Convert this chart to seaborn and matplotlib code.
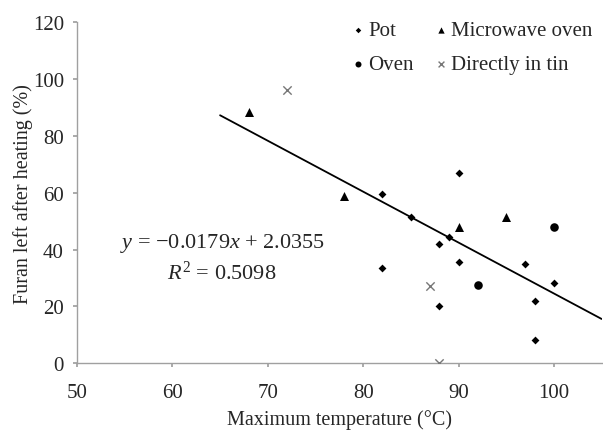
import matplotlib
matplotlib.use("Agg")
import matplotlib.pyplot as plt
import pandas as pd
import seaborn as sns

# Dados
pot_temp = [82, 82, 85, 88, 88, 89, 90, 90, 97, 98, 98, 100]
pot_furan = [59.5, 33.5, 51.3, 42.0, 20.2, 44.5, 66.8, 35.5, 35.0, 21.8, 8.1, 28.1]
micro_temp = [68, 78, 90, 95]
micro_furan = [88.4, 58.8, 48.0, 51.6]
oven_temp = [92, 100]
oven_furan = [27.6, 48.0]
tin_temp = [72, 87, 88]
tin_furan = [96.2, 27.2, 0.0]

# Linha de tendência (fração -> %)
slope = -0.0179
intercept = 2.0355
fit_x = [65, 105]

sns.set_theme(style="white")
plt.rcParams["font.family"] = ["Liberation Serif", "DejaVu Serif"]
plt.rcParams["mathtext.fontset"] = "custom"
plt.rcParams["mathtext.rm"] = "Liberation Serif"
plt.rcParams["mathtext.it"] = "Liberation Serif:italic"

df = pd.concat([
    pd.DataFrame({"temp": pot_temp, "furan": pot_furan, "method": "Pot"}),
    pd.DataFrame({"temp": oven_temp, "furan": oven_furan, "method": "Oven"}),
    pd.DataFrame({"temp": micro_temp, "furan": micro_furan, "method": "Microwave oven"}),
    pd.DataFrame({"temp": tin_temp, "furan": tin_furan, "method": "Directly in tin"}),
], ignore_index=True)

markers = {"Pot": "D", "Oven": "o", "Microwave oven": "^", "Directly in tin": "x"}
palette = {"Pot": "black", "Oven": "black", "Microwave oven": "black", "Directly in tin": "#777777"}
sizes = {"Pot": 16, "Oven": 38, "Microwave oven": 42, "Directly in tin": 36}

fig = plt.figure(figsize=(6.03, 4.31), dpi=100)
ax = fig.add_axes([0.1277, 0.1547, 0.870, 0.792])

for m in ["Pot", "Oven", "Microwave oven", "Directly in tin"]:
    sub = df[df["method"] == m]
    sns.scatterplot(x="temp", y="furan", data=sub, marker=markers[m],
                    color=palette[m], s=sizes[m], linewidth=0 if m != "Directly in tin" else 1.0,
                    label=m, ax=ax, zorder=3)

fit_df = pd.DataFrame({"x": fit_x, "y": [100 * (slope * v + intercept) for v in fit_x]})
sns.lineplot(x="x", y="y", data=fit_df, color="black", linewidth=1.3, ax=ax, legend=False)

ax.set_xlim(50, 105)
ax.set_ylim(0, 120)
ax.set_xticks([50, 60, 70, 80, 90, 100])
ax.set_yticks([0, 20, 40, 60, 80, 100, 120])
ax.set_xlabel("Maximum temperature (°C)", fontsize=14.5, labelpad=5)
ax.set_ylabel("Furan left after heating (%)", fontsize=14.5, labelpad=0)
ax.tick_params(labelsize=15, length=3, color="#a0a0a0", direction="out",
               bottom=True, left=True)
ax.tick_params(axis="x", pad=11)
ax.tick_params(axis="y", pad=6.5)
for side in ["top", "right"]:
    ax.spines[side].set_visible(False)
for side in ["left", "bottom"]:
    ax.spines[side].set_color("#a0a0a0")
    ax.spines[side].set_linewidth(1.0)

ax.text(65.2, 42.3, "$y$ = \u22120.0179$x$ + 2.0355", ha="center", va="center", fontsize=16)
ax.text(65.2, 32.0, "$R^2$ = 0.5098", ha="center", va="center", fontsize=16)

handles, labels = ax.get_legend_handles_labels()
order = ["Pot", "Oven", "Microwave oven", "Directly in tin"]
h = [handles[labels.index(o)] for o in order]
ax.legend(h, order, ncol=2, loc="upper left", bbox_to_anchor=(0.50, 1.047),
          frameon=False, fontsize=15, handlelength=0.4, handletextpad=0.3,
          columnspacing=1.1, labelspacing=0.7, borderpad=0.2, markerscale=0.7)

plt.savefig("out.png", dpi=100)
